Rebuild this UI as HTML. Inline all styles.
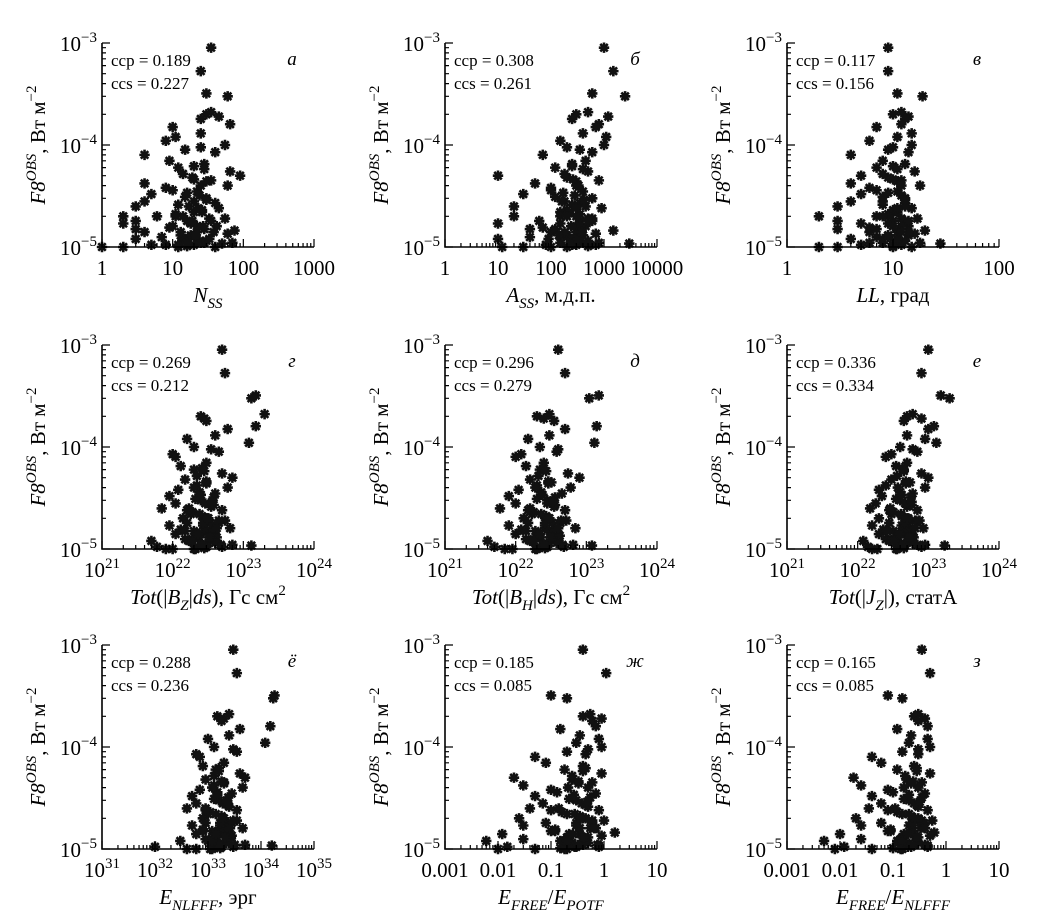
<!DOCTYPE html>
<html><head><meta charset="utf-8"><style>
html,body{margin:0;padding:0;background:#fff;}
svg{display:block;font-family:"Liberation Serif",serif;}
</style></head><body>
<svg id="fig" width="1063" height="917" viewBox="0 0 1063 917" xmlns="http://www.w3.org/2000/svg"></svg>
<script>
// Shared flare fluxes (y values, W m^-2)
const fluxes = [9e-4,5.3e-4,3.2e-4,3e-4,2.1e-4,2e-4,1.9e-4,1.8e-4,1.6e-4,1.5e-4,1.3e-4,1.2e-4,1.1e-4,1e-4,9.5e-5,9e-5,8.5e-5,8e-5,7e-5,6.5e-5,6e-5,5.5e-5,5e-5,4.8e-5,4.5e-5,4.2e-5,4e-5,3.8e-5,3.5e-5,3.3e-5,3e-5,2.8e-5,2.6e-5,2.5e-5,2.4e-5,2.2e-5,2.1e-5,2e-5,1.9e-5,1.8e-5,1.7e-5,1.6e-5,1.5e-5,1.45e-5,1.4e-5,1.35e-5,1.3e-5,1.25e-5,1.2e-5,1.15e-5,1.1e-5,1.08e-5,1.05e-5,1.02e-5,1e-5,
3.1e-5,2.7e-5,2.3e-5,1.9e-5,1.7e-5,1.55e-5,1.4e-5,1.3e-5,1.2e-5,1.1e-5,1.05e-5,1e-5,2e-5,1.6e-5,1.25e-5,3.6e-5,4.4e-5,5.2e-5,6.2e-5,1.8e-5,
1e-5,1.05e-5,1.1e-5,1.15e-5,1.2e-5,1.3e-5,1.4e-5,1.5e-5,1.6e-5,1.8e-5,2e-5,2.2e-5,2.5e-5,2.8e-5,3.2e-5,1e-5,1.05e-5,1.1e-5,1.2e-5,1.3e-5,1.4e-5,1.6e-5,1.8e-5,2e-5,2.4e-5,2.9e-5,3.4e-5,4e-5,4.6e-5,5.8e-5];
const xNss = [35,25,30,60,35,30,45,25,65,10,25,11,8,55,25,15,40,4,9,28,12,65,90,19,35,4,60,8,22,5,30,4,12,3,45,20,11,2,55,3,2,42,3,75,4,60,13,7,3,24,28,50,5,16,1,
15,40,26,33,18,9,38,20,14,70,12,2,6,22,18,10,30,14,20,16,
12,20,25,30,15,18,22,28,10,35,14,26,17,20,24,40,8,16,33,21,13,27,19,11,23,30,16,25,20,28];
const xAss = [1000,1500,600,2500,500,300,1200,250,800,700,400,1100,150,1000,200,350,600,70,450,250,120,500,10,200,800,50,300,100,400,30,600,180,250,20,900,150,350,20,500,60,10,300,40,1500,100,700,200,40,10,250,400,3000,80,500,12,
120,350,200,600,150,70,300,400,90,800,250,30,150,450,200,100,300,180,250,350,
200,300,150,500,250,400,180,120,350,600,300,220,450,160,280,100,700,260,320,140,380,240,500,200,300,420,170,330,260,400];
const xLL = [9,9,11,19,12,10,14,13,12,7,15,11,6,15,10,9,14,4,8,13,7,16,5,9,12,4,18,6,11,5,13,4,8,3,15,10,9,2,17,3,5,14,3,20,6,16,9,7,4,11,12,28,5,10,2,
8,13,10,12,9,6,11,14,8,18,10,3,7,12,9,7,11,8,10,13,
10,12,8,13,11,9,14,7,12,10,9,11,13,8,12,15,10,6,11,9,12,10,14,8,11,13,9,12,10,11];
const xBz = [5e22,5.5e22,1.5e23,1.3e23,2e23,2.5e22,2.8e22,3e22,1.5e23,6e22,4e22,1.6e22,1.2e23,2e22,3.5e22,4.5e22,1e22,1.1e22,3e22,1.3e22,2e22,5e22,7e22,1.5e22,3e22,2.2e22,6e22,1.2e22,4e22,9e21,2.5e22,1.1e22,3.5e22,7e21,5e22,1.8e22,2.6e22,1.4e22,4.5e22,1.6e22,9e21,6.5e22,2e22,3e22,1.1e22,4e22,2.4e22,1.5e22,5e21,3.2e22,7e22,1.3e23,6e21,2.8e22,8e21,
2.1e22,3.8e22,1.9e22,5.5e22,2.7e22,1.3e22,3.3e22,4.2e22,1.7e22,4.8e22,2.3e22,1e22,2.9e22,3.6e22,1.9e22,2.4e22,3e22,2.2e22,2.6e22,3.4e22,
2e22,3e22,2.5e22,4e22,1.8e22,3.5e22,2.2e22,1.5e22,2.8e22,4.5e22,3.2e22,2.4e22,1.7e22,2.9e22,3.8e22,2.1e22,5e22,2.6e22,1.9e22,3.3e22,2.3e22,4.2e22,2.7e22,3.1e22,1.6e22,3.6e22,2.5e22,2e22,3e22,2.8e22];
const xBh = [4e22,5e22,1.5e23,1.1e23,3e22,2e22,2.5e22,3.5e22,1.4e23,5e22,3e22,1.5e22,1.3e23,2.2e22,4e22,3.8e22,1.2e22,1e22,2.5e22,1.4e22,2.2e22,5.5e22,8e22,1.6e22,3.2e22,2e22,6e22,1.1e22,4.5e22,8e21,2.8e22,1e22,3.5e22,6e21,5e22,1.7e22,2.7e22,1.3e22,4.4e22,1.5e22,8e21,7e22,1.9e22,3.1e22,1e22,4.2e22,2.3e22,1.4e22,4e21,3e22,6.5e22,1.2e23,5e21,2.6e22,7e21,
2e22,3.6e22,1.8e22,5.2e22,2.6e22,1.2e22,3.2e22,4e22,1.6e22,4.6e22,2.2e22,9e21,2.8e22,3.5e22,1.8e22,2.3e22,2.9e22,2.1e22,2.5e22,3.3e22,
1.9e22,2.8e22,2.4e22,3.8e22,1.7e22,3.3e22,2.1e22,1.4e22,2.6e22,4.3e22,3e22,2.3e22,1.6e22,2.8e22,3.6e22,2e22,4.8e22,2.5e22,1.8e22,3.1e22,2.2e22,4e22,2.6e22,2.9e22,1.5e22,3.4e22,2.4e22,1.9e22,2.9e22,2.7e22];
const xJz = [1e23,8e22,1.5e23,2e23,6e22,5e22,8e22,4.5e22,1.2e23,1e23,5e22,9e22,1.3e23,4e22,6e22,7e22,3e22,2.5e22,5e22,3.5e22,4.5e22,8e22,1e23,3e22,5.5e22,2.5e22,9e22,2e22,6e22,2.2e22,4e22,1.8e22,5e22,1.5e22,7e22,3e22,4.2e22,2e22,6.5e22,2.8e22,1.6e22,8.5e22,3.2e22,4.8e22,2e22,6e22,3.8e22,2.5e22,1.2e22,5e22,9e22,1.7e23,1.4e22,4.5e22,1.6e22,
3.5e22,5.8e22,3.2e22,7.5e22,4.2e22,2.3e22,5.2e22,6.2e22,2.8e22,7e22,3.8e22,1.9e22,4.6e22,5.5e22,3.3e22,4e22,4.8e22,3.6e22,4.3e22,5e22,
3.5e22,4.5e22,4e22,6e22,3e22,5e22,3.8e22,2.6e22,4.4e22,7e22,5.2e22,4.1e22,2.9e22,4.7e22,5.6e22,3.6e22,8e22,4.3e22,3.3e22,5.4e22,3.9e22,6.5e22,4.6e22,5e22,2.8e22,5.8e22,4.2e22,3.7e22,4.8e22,4.5e22];
const xEnl = [3e33,3.5e33,1.8e34,1.7e34,2.5e33,1.5e33,2e33,1.8e33,1.5e34,4e33,2.5e33,1e33,1.2e34,1.3e33,3e33,3.5e33,6e32,7e32,2e33,8e32,1.4e33,4e33,5e33,9e32,2e33,1.3e33,4.5e33,7e32,2.8e33,5e32,1.6e33,6e32,2.5e33,4e32,3.5e33,1e33,1.8e33,8e32,3e33,9e32,5e32,4.5e33,1.2e33,2e33,6e32,2.8e33,1.5e33,9e32,3e32,2.2e33,5e33,1.6e34,1e32,1.7e33,4e32,
1.3e33,2.4e33,1.1e33,3.5e33,1.7e33,8e32,2.1e33,2.7e33,1e33,3.2e33,1.4e33,6e32,1.9e33,2.3e33,1.2e33,1.5e33,2e33,1.3e33,1.6e33,2.1e33,
1.2e33,1.8e33,1.5e33,2.5e33,1e33,2.2e33,1.3e33,8e32,1.7e33,2.8e33,2e33,1.4e33,9e32,1.9e33,2.4e33,1.1e33,3e33,1.6e33,1.2e33,2.1e33,1.4e33,2.6e33,1.7e33,1.9e33,9e32,2.3e33,1.5e33,1.2e33,1.8e33,1.6e33];
const xFp = [0.4,1.1,0.1,0.2,0.55,0.4,0.9,0.6,0.7,0.15,0.35,0.8,0.3,0.9,0.5,0.2,0.45,0.05,0.08,0.4,0.18,0.9,0.02,0.25,0.6,0.03,0.5,0.1,0.7,0.05,0.3,0.07,0.5,0.04,0.8,0.2,0.35,0.025,1.0,0.08,0.03,0.7,0.1,1.6,0.012,0.9,0.2,0.03,0.006,0.25,0.4,0.8,0.015,0.15,0.01,
0.22,0.45,0.16,0.6,0.3,0.12,0.35,0.5,0.18,0.75,0.28,0.05,0.4,0.55,0.2,0.13,0.33,0.25,0.45,0.6,
0.2,0.3,0.25,0.5,0.15,0.4,0.22,0.12,0.35,0.6,0.45,0.28,0.14,0.38,0.55,0.18,0.8,0.32,0.2,0.42,0.26,0.65,0.3,0.36,0.1,0.48,0.27,0.21,0.33,0.4];
const xFn = [0.35,0.5,0.08,0.15,0.3,0.25,0.4,0.3,0.45,0.12,0.22,0.45,0.2,0.5,0.3,0.15,0.3,0.04,0.06,0.25,0.12,0.5,0.018,0.18,0.35,0.025,0.3,0.08,0.4,0.04,0.2,0.06,0.3,0.035,0.45,0.15,0.22,0.02,0.55,0.06,0.025,0.4,0.08,0.6,0.01,0.5,0.15,0.025,0.005,0.18,0.25,0.45,0.012,0.1,0.008,
0.16,0.28,0.12,0.35,0.2,0.09,0.24,0.3,0.13,0.4,0.19,0.04,0.26,0.33,0.14,0.1,0.22,0.17,0.28,0.35,
0.15,0.22,0.18,0.3,0.12,0.26,0.16,0.09,0.24,0.38,0.3,0.2,0.11,0.25,0.35,0.14,0.45,0.22,0.15,0.28,0.19,0.4,0.23,0.26,0.08,0.32,0.2,0.16,0.24,0.28];
const ccpVals = ["0.189","0.308","0.117","0.269","0.296","0.336","0.288","0.185","0.165"];
const ccsVals = ["0.227","0.261","0.156","0.212","0.279","0.334","0.236","0.085","0.085"];

const NS="http://www.w3.org/2000/svg";
const svg=document.getElementById('fig');
function mk(tag,attrs,parent){const e=document.createElementNS(NS,tag);for(const k in attrs)e.setAttribute(k,attrs[k]);(parent||svg).appendChild(e);return e;}

const panels=[
 {xs:xNss,lo:0,hi:3,letter:"а",name:"nss",ax:102,ay:43,lab:"plain",title:[["N",1,0],["SS",1,1]]},
 {xs:xAss,lo:0,hi:4,letter:"б",name:"ass",ax:445,ay:43,lab:"plain",title:[["A",1,0],["SS",1,1],[", м.д.п.",0,0]]},
 {xs:xLL,lo:0,hi:2,letter:"в",name:"ll",ax:787,ay:43,lab:"plain",title:[["LL",1,0],[", град",0,0]]},
 {xs:xBz,lo:21,hi:24,letter:"г",name:"bz",ax:102,ay:345,lab:"pow",title:[["Tot",1,0],["(|",0,0],["B",1,0],["Z",1,1],["|",0,0],["ds",1,0],["), Гс см",0,0],["2",0,2]]},
 {xs:xBh,lo:21,hi:24,letter:"д",name:"bh",ax:445,ay:345,lab:"pow",title:[["Tot",1,0],["(|",0,0],["B",1,0],["H",1,1],["|",0,0],["ds",1,0],["), Гс см",0,0],["2",0,2]]},
 {xs:xJz,lo:21,hi:24,letter:"е",name:"jz",ax:787,ay:345,lab:"pow",title:[["Tot",1,0],["(|",0,0],["J",1,0],["Z",1,1],["|), статА",0,0]]},
 {xs:xEnl,lo:31,hi:35,letter:"ё",name:"enlfff",ax:102,ay:645,lab:"pow",title:[["E",1,0],["NLFFF",1,1],[", эрг",0,0]]},
 {xs:xFp,lo:-3,hi:1,letter:"ж",name:"efree-epotf",ax:445,ay:645,lab:"plain",title:[["E",1,0],["FREE",1,1],["/",0,0],["E",1,0],["POTF",1,1]]},
 {xs:xFn,lo:-3,hi:1,letter:"з",name:"efree-enlfff",ax:787,ay:645,lab:"plain",title:[["E",1,0],["FREE",1,1],["/",0,0],["E",1,0],["NLFFF",1,1]]}
];
const W=212,H=204,YLO=-5,YHI=-3;
function plainLab(e){const v=Math.pow(10,e);return e<0?v.toFixed(-e):String(v);}

panels.forEach((p,i)=>{
 const g=mk('g',{});
 
 
 const sx=v=>p.ax+(Math.log10(v)-p.lo)/(p.hi-p.lo)*W;
 const sy=v=>p.ay+H-(Math.log10(v)-YLO)/(YHI-YLO)*H;
 const pts=mk('g',{stroke:'#111','stroke-width':'2.6','stroke-linecap':'butt'},g);
 
 
 p.xs.forEach((xv,j)=>{
  const cx=sx(xv),cy=sy(fluxes[j]),r=5.2,d=r*0.72;
  const pth=mk('path',{d:`M${cx-r} ${cy}H${cx+r}M${cx} ${cy-r}V${cy+r}M${cx-d} ${cy-d}L${cx+d} ${cy+d}M${cx-d} ${cy+d}L${cx+d} ${cy-d}`},pts);
  
  
 });
 const axes=mk('path',{d:`M${p.ax} ${p.ay}V${p.ay+H}H${p.ax+W}`,stroke:'#000','stroke-width':'1.6',fill:'none'},g);
 
 
 let td='';
 for(let e=p.lo;e<p.hi;e++){for(let m=1;m<10;m++){const x=sx(Math.pow(10,e)*m);const L=m==1?8:4;td+=`M${x} ${p.ay+H}V${p.ay+H-L}`;}}
 td+=`M${p.ax+W} ${p.ay+H}V${p.ay+H-8}`;
 for(let e=YLO;e<YHI;e++){for(let m=1;m<10;m++){const y=sy(Math.pow(10,e)*m);const L=m==1?8:4;td+=`M${p.ax} ${y}H${p.ax+L}`;}}
 td+=`M${p.ax} ${p.ay}H${p.ax+8}`;
 const ticks=mk('path',{d:td,stroke:'#000','stroke-width':'1.2',fill:'none'},g);
 
 
 for(let e=YLO;e<=YHI;e++){
  const t=mk('text',{x:p.ax-5,y:sy(Math.pow(10,e))+8,'text-anchor':'end','font-size':'21'},g);
  
  
  t.textContent='10';
  const s=mk('tspan',{'font-size':'15',dy:'-9'},t);s.textContent='−'+(-e);
 }
 for(let e=p.lo;e<=p.hi;e++){
  const x=sx(Math.pow(10,e));
  const t=mk('text',{x:x,y:p.ay+H+28,'text-anchor':'middle','font-size':'21'},g);
  
  
  if(p.lab==='plain'){t.textContent=plainLab(e);}
  else{t.textContent='10';const s=mk('tspan',{'font-size':'15',dy:'-9'},t);s.textContent=String(e);}
 }
 const xt=mk('text',{x:p.ax+W/2,y:p.ay+H+55,'text-anchor':'middle','font-size':'21'},g);
 
 
 let prev=0;
 p.title.forEach(([txt,it,sub])=>{
  const a={};if(it)a['font-style']='italic';
  const off=(sub==1?6:sub==2?-9:0);const dy=off-prev;prev=off;
  if(dy)a.dy=dy;if(sub)a['font-size']='15';
  const s=mk('tspan',a,xt);s.textContent=txt;
 });
 const cx=p.ax-57,cy=p.ay+H/2;
 const yt=mk('text',{x:cx,y:cy,'text-anchor':'middle','font-size':'21',transform:`rotate(-90 ${cx} ${cy})`},g);
 
 
 const a1=mk('tspan',{'font-style':'italic'},yt);a1.textContent='F8';
 const a2=mk('tspan',{'font-style':'italic','font-size':'15',dy:'-9'},yt);a2.textContent='OBS';
 const a3=mk('tspan',{dy:'9'},yt);a3.textContent=', Вт м';
 const a4=mk('tspan',{'font-size':'15',dy:'-9'},yt);a4.textContent='−2';
 const c1=mk('text',{x:p.ax+9,y:p.ay+23,'font-size':'17'},g);
 
 
 c1.textContent='ccp = '+ccpVals[i];
 const c2=mk('text',{x:p.ax+9,y:p.ay+46,'font-size':'17'},g);
 
 
 c2.textContent='ccs = '+ccsVals[i];
 const lt=mk('text',{x:p.ax+190,y:p.ay+22,'font-size':'19','font-style':'italic','text-anchor':'middle'},g);
 
 
 lt.textContent=p.letter;
});
</script>
</body></html>
